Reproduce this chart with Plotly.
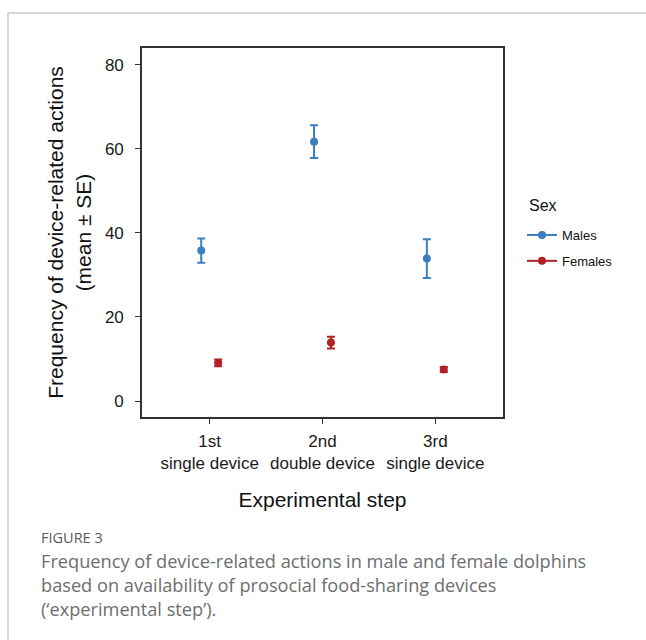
import plotly.graph_objects as go

# ---- data ----
steps = ["1st<br>single device", "2nd<br>double device", "3rd<br>single device"]
males_mean = [35.8, 61.7, 33.9]
males_se = [2.9, 3.9, 4.6]
females_mean = [9.1, 13.9, 7.5]
females_se = [0.8, 1.4, 0.6]
y_ticks = [0, 20, 40, 60, 80]

MALE_COLOR = "#3B7EC1"
FEMALE_COLOR = "#B22225"
DODGE = 0.075  # half dodge width in category units

W, H = 646, 640
L, T, R, B = 142, 48, 503, 417  # plot area in pixels
pw, ph = R - L, B - T

def px(x):
    return (x - L) / pw

def py(y):
    return (B - y) / ph

pos = list(range(len(steps)))

fig = go.Figure()
for name, mean, se, col, grp, off in [
    ("Males", males_mean, males_se, MALE_COLOR, "m", -DODGE),
    ("Females", females_mean, females_se, FEMALE_COLOR, "f", DODGE),
]:
    fig.add_trace(go.Scatter(
        x=[p + off for p in pos], y=mean, name=name, mode="markers",
        legendgroup=grp, showlegend=False,
        marker=dict(color=col, size=8),
        error_y=dict(type="data", array=se, visible=True, color=col,
                     thickness=2, width=4),
    ))
    # legend entry (line + point key, as in the original)
    fig.add_trace(go.Scatter(
        x=[None], y=[None], name=name, mode="lines+markers",
        legendgroup=grp, showlegend=True,
        marker=dict(color=col, size=8), line=dict(color=col, width=2),
    ))

font = "Liberation Sans, Arial, sans-serif"
fig.update_layout(
    width=W, height=H,
    margin=dict(l=L, r=W - R, t=T, b=H - B),
    paper_bgcolor="white", plot_bgcolor="white",
    font=dict(family=font, color="#1a1a1a", size=17),
    showlegend=True,
    legend=dict(
        x=px(522), y=py(220), xanchor="left", yanchor="top",
        font=dict(size=13, color="#111"),
        traceorder="grouped", tracegroupgap=6,
        itemclick=False, bgcolor="rgba(0,0,0,0)",
    ),
)
fig.update_xaxes(
    range=[-0.6, 2.6], tickvals=pos, ticktext=steps,
    showline=True, mirror=True, linecolor="#333", linewidth=1.6,
    ticks="outside", ticklen=5, tickcolor="#333", tickwidth=1,
    ticklabelstandoff=3,
    showgrid=False, zeroline=False,
    tickfont=dict(size=17, color="#1a1a1a"),
    title=dict(text="Experimental step", font=dict(size=21, color="#111"), standoff=20),
)
fig.update_yaxes(
    range=[-3.8, 84], tickvals=y_ticks,
    showline=True, mirror=True, linecolor="#333", linewidth=1.6,
    ticks="outside", ticklen=5, tickcolor="#333", tickwidth=1,
    ticklabelstandoff=8,
    showgrid=False, zeroline=False,
    tickfont=dict(size=17, color="#1a1a1a"),
    title=dict(text="Frequency of device-related actions<br>(mean ± SE)",
               font=dict(size=21, color="#111"), standoff=8),
)

# legend title
fig.add_annotation(xref="paper", yref="paper", x=px(527), y=py(205), xanchor="left", yanchor="middle",
                   text="Sex", showarrow=False, font=dict(family=font, size=16, color="#111"))

# page frame lines
fig.add_shape(type="line", xref="paper", yref="paper", x0=px(8), x1=px(W), y0=py(13), y1=py(13),
              line=dict(color="#c8c8c8", width=1.5))
fig.add_shape(type="line", xref="paper", yref="paper", x0=px(8), x1=px(8), y0=py(13), y1=py(H),
              line=dict(color="#c8c8c8", width=1.5))

cap_font = "Open Sans, Lato, sans-serif"
fig.add_annotation(xref="paper", yref="paper", x=px(39), y=py(537), xanchor="left", yanchor="middle",
                   text="FIGURE 3", showarrow=False,
                   font=dict(family=cap_font, size=14.5, color="#5a5a5a"))
caption = ["Frequency of device-related actions in male and female dolphins",
           "based on availability of prosocial food-sharing devices",
           "(\u2018experimental step\u2019)."]
for i, line in enumerate(caption):
    fig.add_annotation(xref="paper", yref="paper", x=px(39), y=py(561 + 24 * i), xanchor="left",
                       yanchor="middle", text=line, showarrow=False,
                       font=dict(family=cap_font, size=18.2, color="#6e6e6e"))

fig.write_html("out.html")
